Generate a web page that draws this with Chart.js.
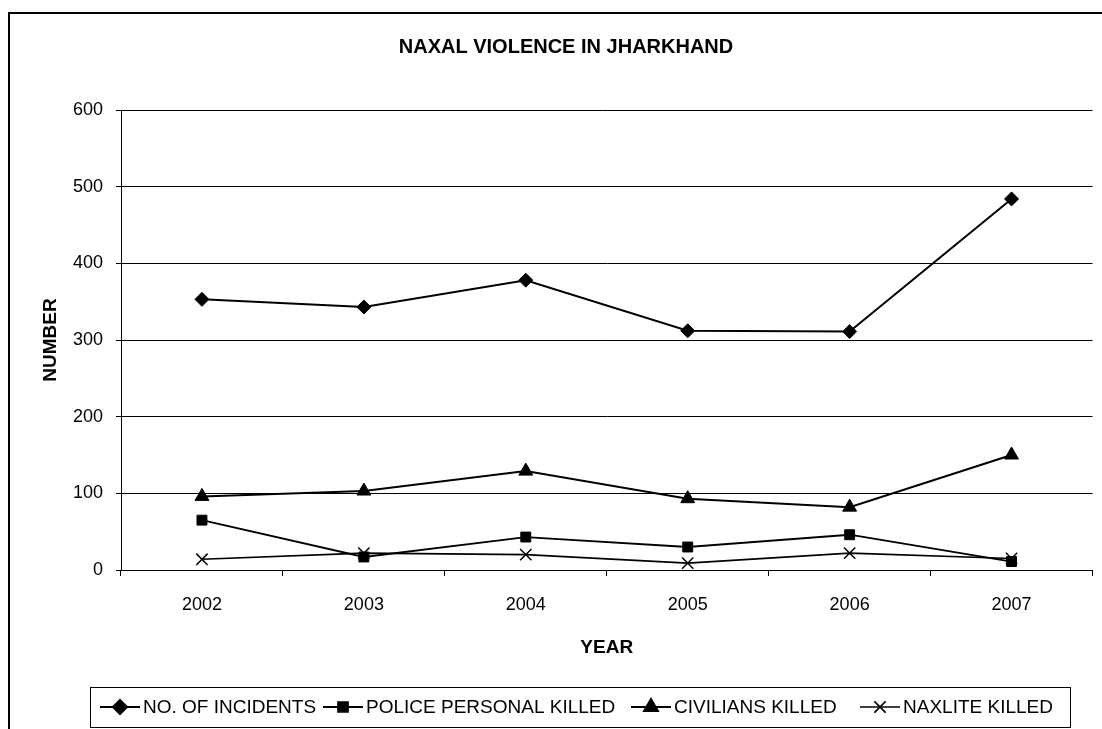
<!DOCTYPE html>
<html>
<head>
<meta charset="utf-8">
<title>Naxal Violence in Jharkhand</title>
<script src="https://cdn.jsdelivr.net/npm/chart.js@4"></script>
<style>
  html, body { margin: 0; padding: 0; background: #fff; }
  #wrap { width: 1102px; height: 729px; }
</style>
</head>
<body>
<div id="wrap"><canvas id="naxalChart" width="1102" height="729"></canvas></div>
<script>
// data
const years = ['2002', '2003', '2004', '2005', '2006', '2007'];
const incidents = [353, 343, 378, 312, 311, 484];
const policeKilled = [65, 17, 43, 30, 46, 11];
const civiliansKilled = [96, 103, 129, 93, 82, 150];
const naxliteKilled = [14, 22, 20, 9, 22, 15];
const yTicks = [0, 100, 200, 300, 400, 500, 600];
const chartTitle = 'NAXAL VIOLENCE IN JHARKHAND';

const FONT = '"Liberation Sans", Arial, sans-serif';

// outer frame (only left and top edges are in the picture) + title
const framePlugin = {
    id: 'frame',
    beforeDraw(chart) {
        const c = chart.ctx;
        c.save();
        c.strokeStyle = '#000';
        c.lineWidth = 2;
        c.beginPath();
        c.moveTo(9, 729);
        c.lineTo(9, 13);
        c.lineTo(1102, 13);
        c.stroke();
        // title sits a bit right of the canvas centre, like the original
        c.fillStyle = '#000';
        c.font = 'bold 20px ' + FONT;
        c.textAlign = 'center';
        c.textBaseline = 'middle';
        c.fillText(chartTitle, 566, 47);
        c.restore();
    }
};

// excel style legend: line + marker + label inside a box
const legendPlugin = {
    id: 'boxLegend',
    afterDraw(chart) {
        const c = chart.ctx;
        const xs = [100, 323, 631, 860];
        const y = 707;
        c.save();
        c.strokeStyle = '#000';
        c.lineWidth = 1;
        c.strokeRect(90.5, 687.5, 980, 40);
        c.font = '19px ' + FONT;
        c.fillStyle = '#000';
        c.textBaseline = 'middle';
        chart.data.datasets.forEach((ds, i) => {
            const x = xs[i];
            c.lineWidth = ds.borderWidth;
            c.beginPath();
            c.moveTo(x, y);
            c.lineTo(x + 40, y);
            c.stroke();
            Chart.helpers.drawPoint(c, {
                pointStyle: ds.pointStyle,
                radius: ds.pointRadius,
                borderWidth: ds.pointBorderWidth || 1
            }, x + 20, y);
            c.fillStyle = '#000';
            c.fillText(ds.label, x + 43, y + 1);
        });
        c.restore();
    }
};

function series(label, data, style, radius, width) {
    return {
        label: label,
        data: data,
        borderColor: '#000',
        backgroundColor: '#000',
        borderWidth: width,
        pointStyle: style,
        pointRadius: radius,
        pointBorderWidth: style === 'crossRot' ? 1.5 : 1,
        pointBackgroundColor: '#000',
        pointBorderColor: '#000',
        tension: 0,
        fill: false
    };
}

new Chart(document.getElementById('naxalChart'), {
    type: 'line',
    data: {
        labels: years,
        datasets: [
            series('NO. OF INCIDENTS', incidents, 'rectRot', 7, 2),
            series('POLICE PERSONAL KILLED', policeKilled, 'rect', 7, 1.8),
            series('CIVILIANS KILLED', civiliansKilled, 'triangle', 8, 2),
            series('NAXLITE KILLED', naxliteKilled, 'crossRot', 8, 1.6)
        ]
    },
    options: {
        responsive: false,
        animation: false,
        layout: { padding: { left: 0, right: 4, top: 110, bottom: 49 } },
        plugins: {
            legend: { display: false },
            tooltip: { enabled: false },
            title: { display: false }
        },
        scales: {
            x: {
                offset: true,
                grid: {
                    offset: true,
                    drawOnChartArea: false,
                    color: '#000',
                    tickLength: 6
                },
                border: { color: '#000', width: 1 },
                ticks: {
                    color: '#000',
                    padding: 18,
                    font: { family: FONT, size: 18 }
                },
                title: {
                    display: true,
                    text: 'YEAR',
                    color: '#000',
                    font: { family: FONT, size: 19, weight: 'bold', lineHeight: 1.2 },
                    padding: { top: 0, bottom: 21 }
                },
                afterFit(scale) { scale.height = 110; }
            },
            y: {
                min: yTicks[0],
                max: yTicks[yTicks.length - 1],
                afterBuildTicks(scale) {
                    scale.ticks = yTicks.map(v => ({ value: v }));
                },
                grid: {
                    color: '#000',
                    lineWidth: 1,
                    tickLength: 5
                },
                border: { color: '#000', width: 1 },
                ticks: {
                    color: '#000',
                    padding: 13,
                    font: { family: FONT, size: 18 }
                },
                title: {
                    display: true,
                    text: 'NUMBER',
                    color: '#000',
                    font: { family: FONT, size: 19, weight: 'bold', lineHeight: 1.2 },
                    padding: { top: 39, bottom: 0 }
                },
                afterFit(scale) { scale.width = 121; }
            }
        }
    },
    plugins: [framePlugin, legendPlugin]
});
</script>
</body>
</html>
